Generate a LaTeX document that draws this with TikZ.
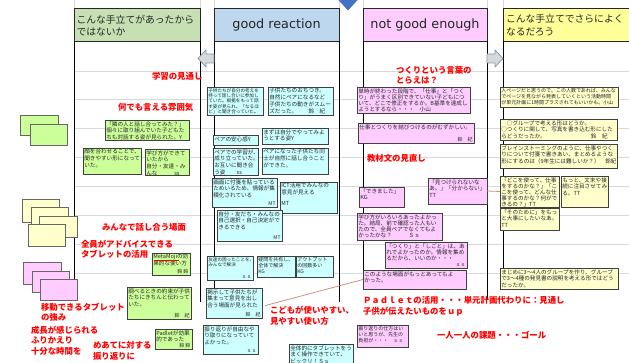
\documentclass[tikz,border=0pt]{standalone}
\usepackage{fontspec}
\setmainfont{Noto Sans CJK JP}
\newfontfamily\latinhdr{DejaVu Sans}
\usetikzlibrary{fit,calc}
\definecolor{hgreen}{HTML}{C6E0B4}
\definecolor{hblue}{HTML}{BDD7EE}
\definecolor{hpink}{HTML}{FFCCFF}
\definecolor{hyellow}{HTML}{FFFF99}
\definecolor{cgreen}{HTML}{CCFF99}
\definecolor{ccyan}{HTML}{CCFFFF}
\definecolor{cpink}{HTML}{FFCCFF}
\definecolor{cyellow}{HTML}{FFFFCC}
\definecolor{gridc}{HTML}{D9D9D9}
\definecolor{arrowblue}{HTML}{4472C4}
\definecolor{arrowgray}{HTML}{D9D9D9}
\definecolor{arrowedge}{HTML}{8497B0}
\definecolor{linkc}{HTML}{C8947E}
\tikzset{
 every node/.style={inner sep=0pt,outer sep=0pt},
 gridl/.style={draw=gridc,line width=0.7pt},
 colline/.style={draw=black,line width=0.9pt},
 hdrbox/.style={draw=black!85,line width=0.9pt,inner sep=0pt},
 hdrjp/.style={anchor=west,align=left,text=black!85,font=\fontsize{9.8pt}{12.5pt}\selectfont},
 hdren/.style={text=black!85,font=\latinhdr\fontsize{12.8pt}{14pt}\selectfont},
 cardbox/.style={draw=black!75,line width=0.9pt,inner sep=0pt},
 decobox/.style={draw=black!60,line width=0.9pt,inner sep=0pt},
 ctxt/.style={anchor=north west,align=left,inner xsep=1.3pt,inner ysep=1.3pt,text=black!85,font=\fontsize{5.6pt}{6.7pt}\selectfont},
 ctxtd/.style={ctxt,font=\fontsize{5.6pt}{6.1pt}\selectfont},
 ctxts/.style={ctxt,font=\fontsize{5pt}{6.2pt}\selectfont},
 ctxtt/.style={ctxt,font=\fontsize{4.6pt}{5.4pt}\selectfont},
 stxt/.style={anchor=south east,text=black!85,font=\fontsize{5pt}{6pt}\selectfont},
 lbl/.style={anchor=west,align=left,text=red,font=\bfseries\fontsize{8.4pt}{10.5pt}\selectfont},
 blkarrow/.style={fill=arrowgray,draw=arrowedge,line width=0.8pt,line join=round},
 link/.style={draw=linkc,line width=0.8pt},
}
\newcommand\crd[8][ctxt]{%
 \node[cardbox,fill=#7,fit={(#3,#4) (#5,#6)}] (#2) {};
 \node[#1] (#2t) at (#2.north west) {#8};}
\newcommand\sig[2]{\node[stxt] (#1s) at ($(#1.south east)+(-1.5,-1)$) {#2};}
\begin{document}
\begin{tikzpicture}[x=1pt,y=-1pt]
\useasboundingbox (0,0) rectangle (629,363);
\clip (0,0) rectangle (629,363);
\fill[white] (0,0) rectangle (629,363);
% spreadsheet grid
\foreach \yy in {71,99,128,157,186,215,244,273} \draw[gridl] (74,\yy) -- (629,\yy);
\foreach \xx in {74,200,214,339,363,487,503} \draw[gridl] (\xx,0) -- (\xx,8);
% headers
\node[hdrbox,fill=hgreen,fit={(74,8) (200,41)}] (h1) {};
\node[hdrjp] (h1t) at (76.5,25.5) {こんな手立てがあったから\\ではないか};
\node[hdrbox,fill=hblue,fit={(214,8) (339,41)}] (h2) {};
\node[hdren] (h2t) at (h2.center) {good reaction};
\node[hdrbox,fill=hpink,fit={(363,8) (487,41)}] (h3) {};
\node[hdren] (h3t) at (h3.center) {not good enough};
\node[hdrbox,fill=hyellow,fit={(503,8) (640,41)}] (h4) {};
\node[hdrjp] (h4t) at (506,25) {こんな手立てでさらによく\\なるだろう};
% column lines
\draw[colline] (h1.south west) -- ++(0,249);
\draw[colline] (h1.south east) -- ++(0,261);
\draw[colline] (h2.south west) -- ++(0,249);
\draw[colline] (h2.south east) -- ++(0,261);
\draw[colline] (h3.south west) -- ++(0,229);
\draw[colline] (h3.south east) -- ++(0,259);
\draw[colline] (h4.south west) -- ++(0,227);
% block arrows and marker
\draw[blkarrow] (198,58.5) -- (206,50) -- (206,54) -- (214,54) -- (214,63) -- (206,63) -- (206,67) -- cycle;
\draw[blkarrow] (503,58.5) -- (495,50) -- (495,54) -- (487,54) -- (487,63) -- (495,63) -- (495,67) -- cycle;
\fill[arrowblue] (337.5,-1) -- (358.5,-1) -- (348,10.5) -- cycle;
% decorative note stacks
\node[decobox,fill=cgreen,fit={(20,115) (58,135)}] (dg1) {};
\node[decobox,fill=cgreen,fit={(30,124) (67,145)}] (dg2) {};
\node[decobox,fill=cyellow,fit={(22,199) (59,222)}] (dy1) {};
\node[decobox,fill=cyellow,fit={(31,207) (68,230)}] (dy2) {};
\node[decobox,fill=cyellow,fit={(39,216) (77,237)}] (dy3) {};
\node[decobox,fill=cyellow,fit={(28,224) (65,246)}] (dy4) {};
\node[decobox,fill=cpink,fit={(23,262) (61,284)}] (dp1) {};
\node[decobox,fill=cpink,fit={(32,271) (69,292)}] (dp2) {};
\node[decobox,fill=cpink,fit={(40,279) (77,300)}] (dp3) {};
% column 1 cards
\crd{gA}{105}{120}{189}{140}{cgreen}{「隣の人と話し合ってみた？」\\個々に取り組んでいた子どもた\\ちも対話する姿が見られた。Y}
\crd{gB}{83}{148}{141}{174}{cgreen}{顔を合わせることで、\\聞きやすい形になって\\いた。}
\crd{gC}{145}{149}{189}{175}{cgreen}{学び方ができて\\いたから\\自分・友達・み\\んな　　　ss}
\crd{gD}{152}{253}{190}{275}{cgreen}{MetaMojiの効\\果的な使い方}
\sig{gD}{鈴 鈴}
\draw[red,line width=0.4pt] ($(gD.north west)+(1.5,7.6)$) -- ++(25,0);
\crd{gE}{127}{287}{191}{319}{cgreen}{調べるときの約束が子供\\たちにきちんと伝わって\\いた。}
\sig{gE}{鈴　紀}
\crd{gF}{155}{329}{192}{349}{cgreen}{Padletが効果\\的であった}
\sig{gF}{鈴 鈴}
% column 2 cards
\crd[ctxtt]{cA}{207}{87}{263}{115}{ccyan}{子供たちが自分の考えを\\持って話し合いに参加し\\ていた。根拠をもって話\\す姿が見られ、「なるほ\\ど」と聞き合っていた。}
\crd{cB}{268}{87}{333}{115}{ccyan}{子供たちのおちつき。\\自然にペアになるなど\\子供たちの動きがスムー\\ズだった。　　鈴　紀}
\crd{cC}{213}{135}{258}{145}{ccyan}{ペアの安心感Y}
\crd{cD}{262}{128}{328}{144}{ccyan}{まずは自分でやってみよ\\うとする姿Y}
\crd{cE}{213}{148}{258}{175}{ccyan}{ペアでの学習が、\\成り立っていた。\\お互いに聞き合\\う姿　　ss}
\crd{cF}{262}{148}{328}{174}{ccyan}{ペアになった子供たち同\\士が自然に話し合うこと\\ができた。}
\crd{cH}{280}{182}{337}{213}{ccyan}{ICT活用でみんなの\\意見が見える\\[4pt]MT}
\crd{cG}{212}{178}{277}{207}{ccyan}{画面に付箋を貼っている\\ためいるため、情報が集\\積化されている}
\sig{cG}{MT}
\crd{cI}{217}{210}{282}{241}{ccyan}{自分・友だち・みんなの\\自己選択・自己決定がで\\きるできる}
\sig{cI}{MT}
\crd[ctxtt]{cK}{207}{256}{253}{280}{ccyan}{友達の困ったことを、\\みんなで解決}
\sig{cK}{ｓｓ}
\crd[ctxts]{cL}{257}{256}{295}{277}{ccyan}{疑問を共有し、\\全体で解決\\KG}
\crd[ctxts]{cM}{296}{256}{333}{277}{ccyan}{アウトプット\\の回数多い\\KG}
\crd{cN}{206}{288}{262}{318}{ccyan}{掲示して子供たちが\\集まって意見を出し\\合う場面が見られた}
\sig{cN}{鈴　紀}
\crd{cO}{203}{325}{258}{354}{ccyan}{振り返りが自由なや\\り取りになっていて\\よかった。}
\sig{cO}{ｓｓ}
\crd{cP}{289}{344}{353}{372}{ccyan}{全体的にタブレットをう\\まく操作できていて、\\ビックリ！Ｓｓ}
% column 3 cards
\crd[ctxtd]{pA}{357}{87}{470}{113}{cpink}{単時が終わった段階で、「仕事」と「つく\\り」がうまく区別できていない子どもにつ\\いて、どこで修正をするか。B基準を達成し\\ようとするなら・・・　小山}
\crd{pB}{358}{123}{474}{143}{cpink}{仕事とつくりを結びつけるのがむずかしい。}
\sig{pB}{鈴　紀}
\crd{pC}{359}{187}{404}{207}{cpink}{「できました」\\KG}
\crd{pD}{428}{178}{487}{204}{cpink}{「見つけられないな\\あ。」「分からない」\\TT}
\crd[ctxtd]{pE}{357}{213}{442}{240}{cpink}{学び方がいろいろあったよかっ\\た。結局、前で確認った人もい\\たので、全員ペアでなくてもよ\\かったかな？　　　Ｓｓ}
\crd[ctxtd]{pF}{385}{242}{467}{268}{cpink}{「つくり」と「しごと」は、あ\\れでよかったのか。情報を集め\\るだから、いいのか・・・}
\sig{pF}{ｓｓ}
\crd{pG}{363}{270}{466}{289}{cpink}{このような場面がもっとあってもよ\\かった。}
\crd[ctxts]{pH}{357}{325}{408}{347}{cpink}{振り返りの仕方はい\\いと思うが、先生の\\負担が・・・　ｓｓ}
% column 4 cards
\crd[ctxts]{yA}{500}{87}{618}{107}{cyellow}{人ページだと思うので、この人数であれば、みんな\\でページを見ながら発表していくという活動時間\\が単元計画に1時間プラスされてもいいかも。小山}
\crd{yB}{500}{119}{617}{140}{cyellow}{　○グループで考える形はどうか。\\○つくりに関して、写真を書き込む形にした\\らどうだったか。　　　　　　　　鈴　紀}
\crd{yC}{500}{144}{617}{168}{cyellow}{ブレインストーミングのように、仕事やつく\\りについて付箋で書きあい、まとめるような\\形にするのは（9年生には難しいか？）　鈴紀}
\crd[ctxtd]{yD}{500}{176}{559}{207}{cyellow}{「どこを使って、仕事\\をするのかな？」「こ\\こを使って、どんな仕\\事するのかな？何がで\\きるの？」TT}
\crd{yE}{561}{176}{608}{207}{cyellow}{もっと、文末や接\\続に注目させてみ\\る。TT}
\crd{yF}{500}{208}{559}{230}{cyellow}{「そのために」をもっ\\と大事にしたいなあ。\\TT}
\crd{yG}{500}{268}{618}{289}{cyellow}{まじめに3～4人のグループを作り、グループ\\で3～4種の発見書の説明を考える形ではどう\\だったか。}
% red labels
\node[lbl] (l1) at (152,76) {学習の見通し};
\node[lbl] (l2) at (118,107) {何でも言える雰囲気};
\node[lbl] (l3) at (396,75.5) {つくりという言葉の\\とらえは？};
\node[lbl] (l4) at (367,158) {教材文の見直し};
\node[lbl] (l5) at (102,227) {みんなで話し合う場面};
\node[lbl] (l6) at (81,249.5) {全員がアドバイスできる\\タブレットの活用};
\node[lbl] (l7) at (41,312) {移動できるタブレット\\の強み};
\node[lbl] (l8) at (31,340.5) {成長が感じられる\\ふりかえり\\十分な時間を};
\node[lbl] (l9) at (93,351) {めあてに対する\\振り返りに};
\node[lbl] (l10) at (270,316) {こどもが使いやすい、\\見やすい使い方};
\node[lbl] (l11) at (363,306.5) {Ｐａｄｌｅｔの活用・・・単元計画代わりに：見通し\\子供が伝えたいものをｕｐ};
\node[lbl] (l12) at (437,335) {一人一人の課題・・・ゴール};
% connectors
\draw[link] (pD.east) -- (yD.west);
\draw[link] ($(l10.north west)+(-5,-1)$) -- (pG.west);
\end{tikzpicture}
\end{document}
